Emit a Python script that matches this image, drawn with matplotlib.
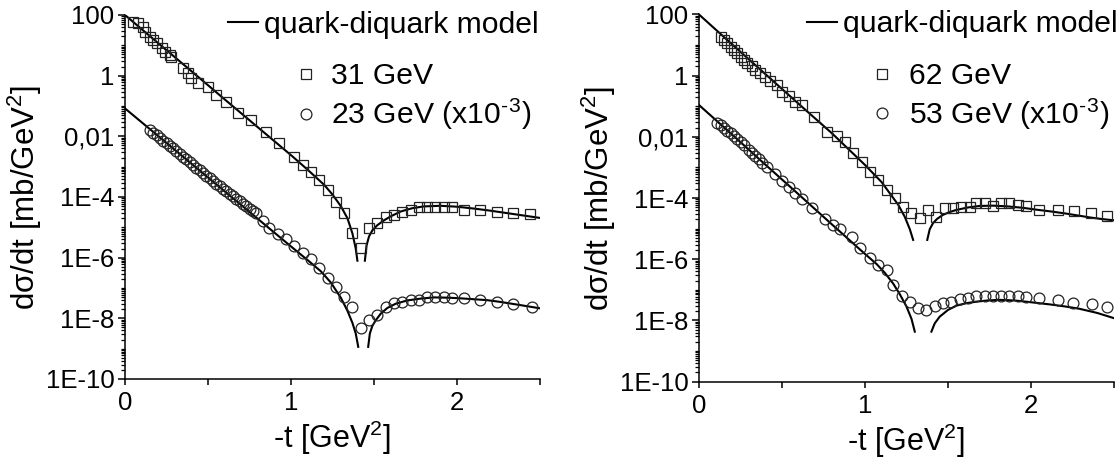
import numpy as np
import matplotlib
matplotlib.use('Agg')
import matplotlib.pyplot as plt
from matplotlib.ticker import FixedLocator, FixedFormatter, LogLocator, NullFormatter
from matplotlib.lines import Line2D

plt.rcParams['font.family'] = ['Liberation Sans', 'DejaVu Sans']
plt.rcParams['mathtext.default'] = 'regular'

# ---------------- data: -t [GeV^2] and log10(dsigma/dt) ----------------
# left panel: 31 GeV (squares)
t31 = [0.05, 0.08, 0.11, 0.12, 0.15, 0.17, 0.19, 0.22, 0.24, 0.27, 0.28, 0.35, 0.38, 0.40, 0.44,
       0.50, 0.55, 0.61, 0.68, 0.76, 0.85, 0.93, 1.02, 1.07, 1.12, 1.17, 1.22, 1.27, 1.32, 1.37,
       1.42, 1.47, 1.52, 1.57, 1.62, 1.67, 1.72, 1.77, 1.82, 1.87, 1.92, 1.97, 2.04, 2.14, 2.24,
       2.34, 2.44]
lg31 = [1.78, 1.73, 1.62, 1.45, 1.28, 1.18, 1.07, 0.90, 0.79, 0.68, 0.63, 0.24, 0.08, -0.09, -0.25,
        -0.36, -0.64, -0.86, -1.24, -1.46, -1.85, -2.23, -2.67, -2.95, -3.17, -3.44, -3.77, -4.16, -4.54, -5.20,
        -5.69, -5.03, -4.87, -4.65, -4.59, -4.48, -4.43, -4.32, -4.32, -4.32, -4.32, -4.34, -4.43, -4.43, -4.48,
        -4.52, -4.55]
# left panel: 23 GeV x1e-3 (circles)
t23 = [0.15, 0.17, 0.19, 0.21, 0.23, 0.25, 0.27, 0.29, 0.31, 0.33, 0.35, 0.37, 0.39, 0.41, 0.43,
       0.45, 0.47, 0.49, 0.51, 0.53, 0.55, 0.57, 0.59, 0.61, 0.63, 0.65, 0.67, 0.69, 0.71, 0.73,
       0.75, 0.77, 0.79, 0.83, 0.87, 0.92, 0.97, 1.02, 1.07, 1.12, 1.17, 1.22, 1.27, 1.32, 1.37,
       1.42, 1.47, 1.52, 1.57, 1.62, 1.67, 1.72, 1.77, 1.82, 1.87, 1.92, 1.97, 2.04, 2.14, 2.24,
       2.34, 2.45]
lg23 = [-1.80, -1.88, -1.97, -2.05, -2.14, -2.23, -2.31, -2.40, -2.49, -2.58, -2.67, -2.76, -2.85, -2.94, -3.03,
        -3.12, -3.21, -3.30, -3.38, -3.47, -3.56, -3.64, -3.73, -3.81, -3.90, -3.98, -4.06, -4.14, -4.22, -4.30,
        -4.38, -4.45, -4.52, -4.80, -5.02, -5.22, -5.40, -5.62, -5.85, -6.05, -6.33, -6.67, -6.98, -7.30, -7.62,
        -8.33, -8.06, -7.89, -7.62, -7.51, -7.45, -7.38, -7.38, -7.31, -7.31, -7.31, -7.34, -7.34, -7.40, -7.45,
        -7.54, -7.63]
# right panel: 62 GeV (squares)
t62 = [0.13, 0.15, 0.17, 0.19, 0.21, 0.23, 0.25, 0.27, 0.29, 0.32, 0.34, 0.37, 0.40, 0.43, 0.47,
       0.50, 0.54, 0.58, 0.62, 0.69, 0.77, 0.83, 0.88, 0.93, 0.98, 1.03, 1.08, 1.13, 1.18, 1.23,
       1.28, 1.33, 1.38, 1.43, 1.48, 1.53, 1.58, 1.63, 1.67, 1.72, 1.77, 1.82, 1.87, 1.92, 1.97,
       2.05, 2.16, 2.26, 2.36, 2.46]
lg62 = [1.27, 1.17, 1.06, 0.95, 0.84, 0.73, 0.62, 0.51, 0.41, 0.30, 0.19, 0.08, -0.03, -0.17, -0.30,
        -0.52, -0.65, -0.85, -0.96, -1.34, -1.83, -1.98, -2.18, -2.54, -2.81, -3.14, -3.41, -3.74, -4.01, -4.28,
        -4.50, -4.66, -4.39, -4.61, -4.33, -4.33, -4.28, -4.28, -4.17, -4.17, -4.26, -4.17, -4.17, -4.23, -4.26,
        -4.39, -4.39, -4.44, -4.50, -4.60]
# right panel: 53 GeV x1e-3 (circles)
t53 = [0.11, 0.13, 0.15, 0.17, 0.19, 0.21, 0.23, 0.25, 0.27, 0.30, 0.32, 0.34, 0.36, 0.38, 0.41,
       0.46, 0.50, 0.54, 0.58, 0.62, 0.68, 0.76, 0.81, 0.85, 0.92, 0.97, 1.03, 1.08, 1.13, 1.17,
       1.22, 1.27, 1.32, 1.37, 1.42, 1.47, 1.52, 1.57, 1.62, 1.67, 1.72, 1.77, 1.82, 1.87, 1.92,
       1.97, 2.05, 2.16, 2.25, 2.37, 2.46]
lg53 = [-1.55, -1.62, -1.72, -1.80, -1.88, -1.98, -2.08, -2.18, -2.27, -2.42, -2.52, -2.62, -2.72, -2.84, -2.98,
        -3.22, -3.44, -3.64, -3.84, -4.03, -4.33, -4.68, -4.88, -5.02, -5.26, -5.64, -5.97, -6.18, -6.37, -6.84,
        -7.22, -7.39, -7.60, -7.66, -7.53, -7.44, -7.39, -7.31, -7.27, -7.22, -7.20, -7.20, -7.20, -7.22, -7.22,
        -7.24, -7.27, -7.33, -7.42, -7.46, -7.56]

# model curves (two branches each, split at the diffraction dip)
m31_ta = [0.0, 0.2, 0.4, 0.6, 0.8, 1.0, 1.1, 1.2, 1.25, 1.3, 1.34, 1.37, 1.39, 1.40]
m31_la = [2.0, 1.07, 0.15, -0.78, -1.70, -2.62, -3.10, -3.60, -3.92, -4.30, -4.70, -5.20, -5.70, -6.10]
m31_tb = [1.445, 1.455, 1.47, 1.49, 1.52, 1.56, 1.60, 1.66, 1.73, 1.80, 1.90, 2.0, 2.1, 2.2, 2.3, 2.4, 2.5]
m31_lb = [-6.10, -5.60, -5.30, -5.10, -4.93, -4.77, -4.64, -4.48, -4.37, -4.31, -4.29, -4.32, -4.38, -4.45,
          -4.53, -4.61, -4.69]

m23_ta = [0.0, 0.2, 0.4, 0.6, 0.8, 1.0, 1.1, 1.18, 1.24, 1.30, 1.34, 1.37, 1.39, 1.405]
m23_la = [-1.08, -1.99, -2.90, -3.81, -4.72, -5.63, -6.08, -6.45, -6.82, -7.32, -7.75, -8.15, -8.50, -8.94]
m23_tb = [1.465, 1.475, 1.49, 1.51, 1.54, 1.58, 1.63, 1.70, 1.78, 1.86, 1.95, 2.02, 2.1, 2.18, 2.25, 2.32, 2.4, 2.5]
m23_lb = [-8.94, -8.50, -8.25, -8.07, -7.85, -7.66, -7.52, -7.41, -7.35, -7.31, -7.32, -7.34, -7.37, -7.40,
          -7.45, -7.51, -7.58, -7.67]

m62_ta = [0.0, 0.2, 0.4, 0.6, 0.8, 1.0, 1.1, 1.15, 1.2, 1.24, 1.27, 1.29]
m62_la = [2.0, 1.02, 0.05, -0.92, -1.88, -2.92, -3.48, -3.85, -4.22, -4.62, -5.02, -5.37]
m62_tb = [1.375, 1.39, 1.41, 1.435, 1.47, 1.51, 1.55, 1.62, 1.69, 1.77, 1.85, 1.95, 2.03, 2.12, 2.2, 2.28,
          2.36, 2.43, 2.5]
m62_lb = [-5.37, -5.02, -4.82, -4.68, -4.55, -4.46, -4.39, -4.31, -4.26, -4.25, -4.27, -4.32, -4.38, -4.44,
          -4.50, -4.57, -4.64, -4.69, -4.73]

m53_ta = [0.0, 0.2, 0.4, 0.6, 0.8, 1.0, 1.07, 1.12, 1.17, 1.21, 1.25, 1.28, 1.30]
m53_la = [-0.96, -1.93, -2.91, -3.88, -4.86, -5.83, -6.16, -6.45, -6.80, -7.15, -7.55, -7.95, -8.37]
m53_tb = [1.40, 1.42, 1.45, 1.50, 1.55, 1.61, 1.67, 1.74, 1.81, 1.90, 1.97, 2.05, 2.13, 2.21, 2.29, 2.4, 2.5]
m53_lb = [-8.37, -8.10, -7.88, -7.66, -7.52, -7.44, -7.39, -7.35, -7.33, -7.35, -7.39, -7.44, -7.49, -7.55,
          -7.62, -7.76, -7.93]

# axis ticks / labels
ytick_vals = [1e2, 1e0, 1e-2, 1e-4, 1e-6, 1e-8, 1e-10]
ytick_labels = ['100', '1', '0,01', '1E-4', '1E-6', '1E-8', '1E-10']
xtick_major = [0, 1, 2]
xtick_labels = ['0', '1', '2']
xtick_minor = [0.5, 1.5, 2.5]

model_label = 'quark-diquark model'
left_labels = ['31 GeV', '23 GeV (x10$^{\u2010}$$^{3}$)']
right_labels = ['62 GeV', '53 GeV (x10$^{\u2010}$$^{3}$)']
xlabel = '-t [GeV$^{2}$]'
ylabel = 'd\u03c3/dt [mb/GeV$^{2}$]'

W, H = 1118, 458
fig = plt.figure(figsize=(W / 100, H / 100), dpi=100)

LW = 1.5
LEG_FS = 21.7
SQ = dict(marker='s', ms=7.0, mfc='none', mec='#222222', mew=0.9, ls='none')
CI = dict(marker='o', ms=7.8, mfc='none', mec='#222222', mew=0.9, ls='none')


def pw(v):
    return np.power(10.0, np.asarray(v, dtype=float))


def panel(rect, sq_t, sq_l, ci_t, ci_l, models, labels, leg1_xy, leg2_xy, pad2):
    ax = fig.add_axes(rect)
    for (ta, la, tb, lb) in models:
        ax.plot(ta, pw(la), color='k', lw=LW)
        ax.plot(tb, pw(lb), color='k', lw=LW)
    ax.plot(sq_t, pw(sq_l), **SQ)
    ax.plot(ci_t, pw(ci_l), **CI)
    ax.set_yscale('log')
    ax.set_xlim(0, 2.5)
    ax.set_ylim(1e-10, 1e2)
    for s in ('top', 'right'):
        ax.spines[s].set_visible(False)
    for s in ('left', 'bottom'):
        ax.spines[s].set_linewidth(1.1)
    ax.yaxis.set_major_locator(FixedLocator(ytick_vals))
    ax.yaxis.set_major_formatter(FixedFormatter(ytick_labels))
    ax.yaxis.set_minor_locator(LogLocator(base=10, subs=np.arange(1, 10), numticks=100))
    ax.yaxis.set_minor_formatter(NullFormatter())
    ax.xaxis.set_major_locator(FixedLocator(xtick_major))
    ax.xaxis.set_major_formatter(FixedFormatter(xtick_labels))
    ax.xaxis.set_minor_locator(FixedLocator(xtick_minor))
    ax.tick_params(axis='both', which='major', direction='out', width=1.1, labelsize=18.5)
    ax.tick_params(axis='y', which='major', length=5, pad=2.5)
    ax.tick_params(axis='y', which='minor', direction='out', length=2.8, width=0.9)
    ax.tick_params(axis='x', which='major', length=4.5, pad=4.5)
    ax.tick_params(axis='x', which='minor', direction='out', length=4.5, width=1.1)
    ax.set_xlabel(xlabel, fontsize=22)
    ax.set_ylabel(ylabel, fontsize=22.5)
    ax.xaxis.set_label_coords(0.5, -0.11)
    ax.yaxis.set_label_coords(-0.195, 0.5)

    h_line = Line2D([], [], color='k', lw=LW)
    leg1 = ax.legend([h_line], [model_label], loc='upper right', bbox_to_anchor=leg1_xy,
                     frameon=False, handlelength=1.0, handletextpad=0.2, borderpad=0,
                     borderaxespad=0, fontsize=LEG_FS)
    ax.add_artist(leg1)
    h_sq = Line2D([], [], **SQ)
    h_ci = Line2D([], [], **CI)
    ax.legend([h_sq, h_ci], labels, loc='upper left', bbox_to_anchor=leg2_xy,
              frameon=False, handlelength=0.8, handletextpad=pad2, labelspacing=0.22,
              borderpad=0, borderaxespad=0, fontsize=LEG_FS)
    return ax


panel([125 / W, (H - 379) / H, 415 / W, 364 / H], t31, lg31, t23, lg23,
      [(m31_ta, m31_la, m31_tb, m31_lb), (m23_ta, m23_la, m23_tb, m23_lb)],
      left_labels, (0.997, 1.012), (0.408, 0.87), 0.42)
panel([699 / W, (H - 381.5) / H, 415 / W, 367 / H], t62, lg62, t53, lg53,
      [(m62_ta, m62_la, m62_tb, m62_lb), (m53_ta, m53_la, m53_tb, m53_lb)],
      right_labels, (1.008, 1.012), (0.411, 0.87), 0.5)

fig.savefig('out.png', dpi=100)
